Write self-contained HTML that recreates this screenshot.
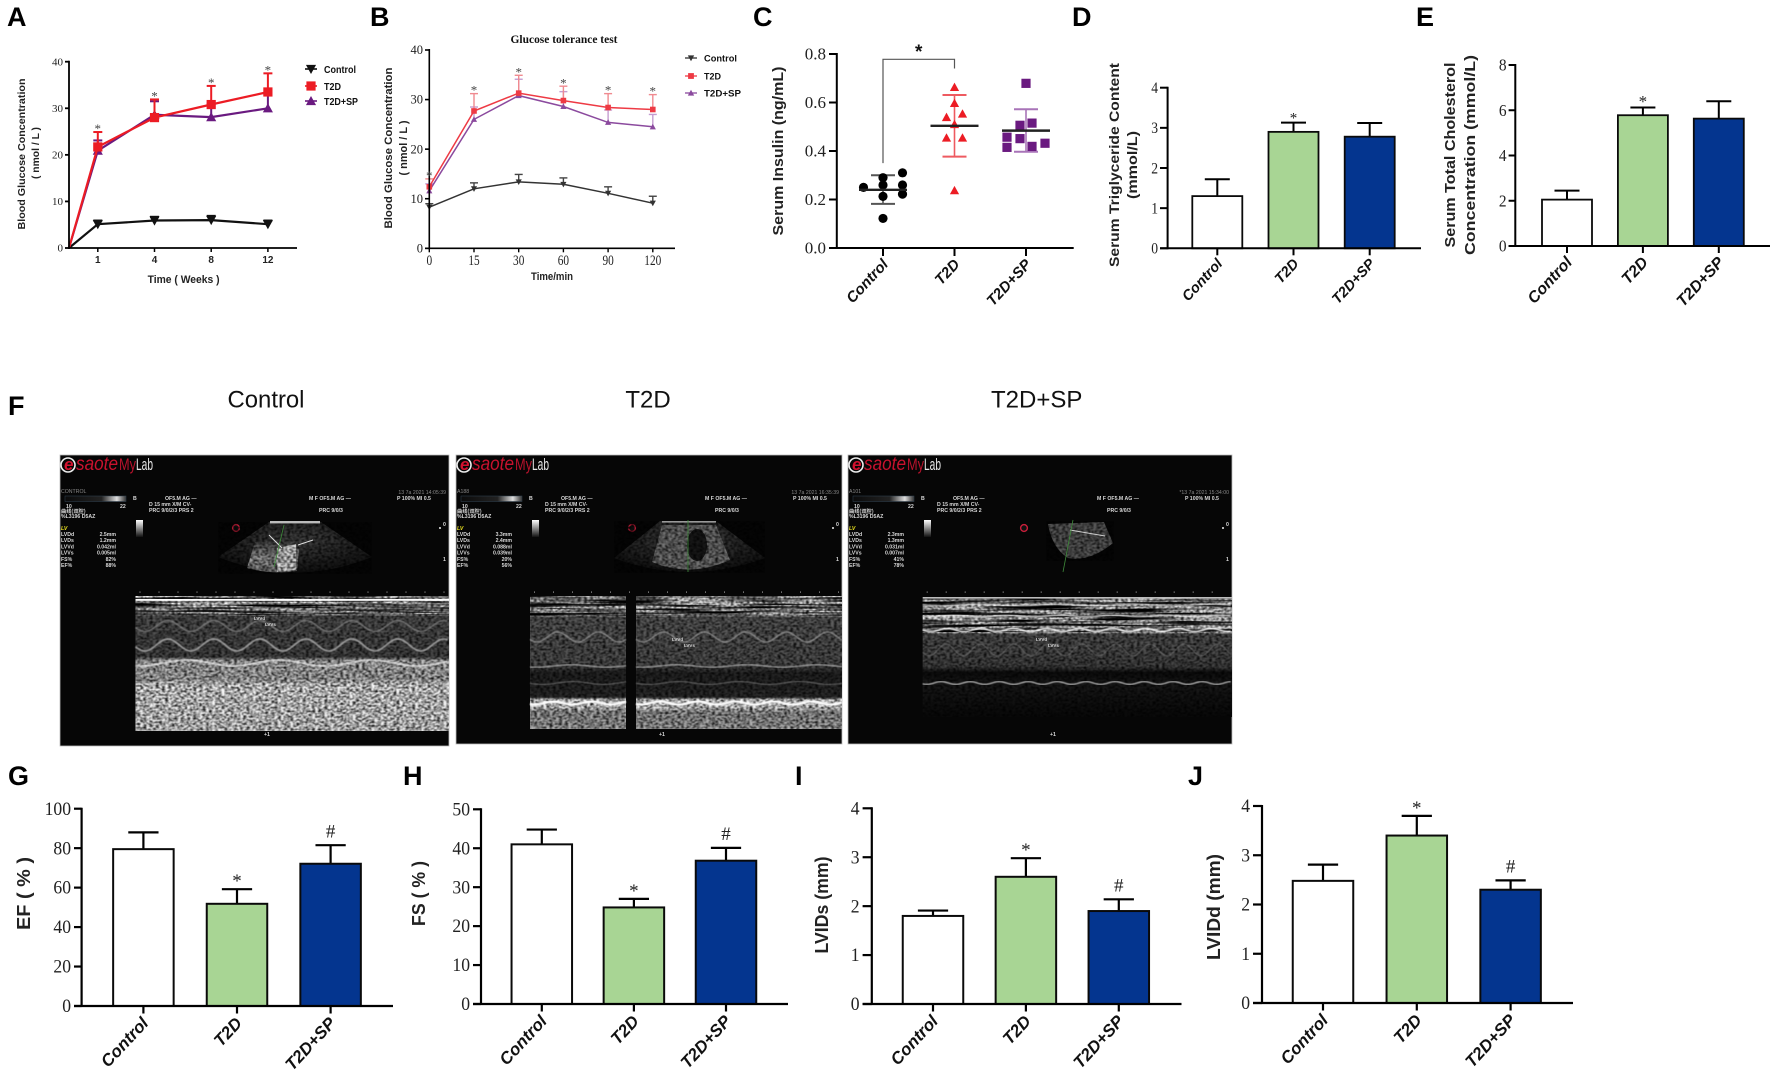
<!DOCTYPE html>
<html lang="en">
<head>
<meta charset="utf-8">
<title>Figure: glucose, insulin, lipids and echocardiography</title>
<style>
html,body{margin:0;padding:0;background:#fff;}
svg{display:block;}
text{font-family:"Liberation Sans",sans-serif;}
</style>
</head>
<body>
<svg id="figure" width="1772" height="1072" viewBox="0 0 1772 1072" xmlns="http://www.w3.org/2000/svg">
<defs>
<filter id="speckle" x="0" y="0" width="1" height="1" color-interpolation-filters="sRGB">
<feTurbulence type="fractalNoise" baseFrequency="0.32 0.55" numOctaves="2" seed="4"/>
<feColorMatrix type="matrix" values="0 0 0 0 0  0 0 0 0 0  0 0 0 0 0  2.3 0 0 0 -0.8"/>
<feGaussianBlur stdDeviation="0.45"/>
</filter>
<filter id="bands" x="0" y="0" width="1" height="1" color-interpolation-filters="sRGB">
<feTurbulence type="fractalNoise" baseFrequency="0.012 0.45" numOctaves="2" seed="9"/>
<feColorMatrix type="matrix" values="0 0 0 0 0  0 0 0 0 0  0 0 0 0 0  3.2 0 0 0 -1.2"/>
<feGaussianBlur stdDeviation="0.3"/>
</filter>
<filter id="soft" x="-5%" y="-20%" width="110%" height="140%"><feGaussianBlur stdDeviation="0.5"/></filter>
<linearGradient id="mmode-1" x1="0" y1="0" x2="0" y2="1">
<stop offset="0" stop-color="#fff"/><stop offset=".06" stop-color="#fff"/><stop offset=".13" stop-color="#d0d0d0"/><stop offset=".15" stop-color="#585858"/><stop offset=".45" stop-color="#4c4c4c"/><stop offset=".48" stop-color="#c8c8c8"/><stop offset=".62" stop-color="#c4c4c4"/><stop offset=".66" stop-color="#fff"/><stop offset="1" stop-color="#f0f0f0"/>
</linearGradient>
<linearGradient id="mmode-2" x1="0" y1="0" x2="0" y2="1">
<stop offset="0" stop-color="#f4f4f4"/><stop offset=".14" stop-color="#ddd"/><stop offset=".16" stop-color="#606060"/><stop offset=".52" stop-color="#555"/><stop offset=".58" stop-color="#262626"/><stop offset=".76" stop-color="#303030"/><stop offset=".78" stop-color="#f8f8f8"/><stop offset=".84" stop-color="#f0f0f0"/><stop offset=".87" stop-color="#aaa"/><stop offset="1" stop-color="#b4b4b4"/>
</linearGradient>
<linearGradient id="mmode-3" x1="0" y1="0" x2="0" y2="1">
<stop offset="0" stop-color="#eee"/><stop offset=".29" stop-color="#e8e8e8"/><stop offset=".31" stop-color="#585858"/><stop offset=".58" stop-color="#484848"/><stop offset=".63" stop-color="#0e0e0e"/><stop offset=".72" stop-color="#1c1c1c"/><stop offset="1" stop-color="#0a0a0a"/>
</linearGradient>
<linearGradient id="depth-bar" x1="0" y1="0" x2="0" y2="1"><stop offset="0" stop-color="#fff"/><stop offset="1" stop-color="#111"/></linearGradient>
<linearGradient id="gain-bar" x1="0" y1="0" x2="1" y2="0"><stop offset="0" stop-color="#0b0b0b"/><stop offset=".6" stop-color="#222"/><stop offset=".85" stop-color="#ddd"/><stop offset="1" stop-color="#333"/></linearGradient>
<radialGradient id="fan-fill" cx=".5" cy=".35" r=".65"><stop offset="0" stop-color="#4a4a4a"/><stop offset="1" stop-color="#121212"/></radialGradient>
<linearGradient id="bright-column" x1="0" y1="0" x2="0" y2="1"><stop offset="0" stop-color="#444"/><stop offset=".6" stop-color="#aaa"/><stop offset="1" stop-color="#777"/></linearGradient>
</defs>
</svg>
<script>
/* ---------- shared category labels ---------- */
const groupLabels = ['Control', 'T2D', 'T2D+SP'];

/* ---------- panel A: blood glucose by week ---------- */
const weekLabels = ['1', '4', '8', '12'];
const glucoseTicks = [0, 10, 20, 30, 40];
const weekControl = [5.1, 5.9, 6.0, 5.1];
const weekControlUpper = [5.9, 6.7, 6.9, 5.9];
const weekT2d = [21.7, 28.0, 30.8, 33.5];
const weekT2dUpper = [24.9, 31.9, 34.8, 37.5];
const weekSp = [20.9, 28.6, 28.1, 30.0];
const weekSpUpper = [23.1, 31.5, 31.0, 33.0];
const weekStart = 0;

/* ---------- panel B: glucose tolerance test ---------- */
const minuteLabels = ['0', '15', '30', '60', '90', '120'];
const ogttControl = [8.3, 12.0, 13.4, 12.9, 11.1, 9.1];
const ogttControlUpper = [9.0, 13.2, 14.9, 14.2, 12.4, 10.5];
const ogttT2d = [12.4, 27.7, 31.3, 29.8, 28.4, 28.0];
const ogttT2dUpper = [14.0, 31.2, 34.9, 32.7, 31.2, 31.0];
const ogttSp = [11.6, 26.0, 30.8, 28.6, 25.4, 24.5];
const ogttSpUpper = [13.0, 28.5, 34.1, 31.6, 27.9, 27.0];

/* ---------- panel C: serum insulin ---------- */
const insulinTicks = ['0.0', '0.2', '0.4', '0.6', '0.8'];
const insulinControl = [0.29, 0.26, 0.213, 0.122, 0.31, 0.26, 0.222, 0.25];
const insulinT2d = [0.663, 0.597, 0.51, 0.237, 0.553, 0.539, 0.454, 0.454];
const insulinSp = [0.506, 0.515, 0.451, 0.419, 0.457, 0.415, 0.432, 0.679];
const insulinMean = [0.24, 0.504, 0.484];
const insulinUpper = [0.30, 0.631, 0.572];
const insulinLower = [0.182, 0.377, 0.397];

/* ---------- panel D: triglyceride ---------- */
const tgTicks = [0, 1, 2, 3, 4];
const tgMean = [1.3, 2.9, 2.78];
const tgUpper = [1.72, 3.13, 3.12];
const tgMarks = ['', '*', ''];

/* ---------- panel E: cholesterol ---------- */
const tcTicks = [0, 2, 4, 6, 8];
const tcMean = [2.05, 5.78, 5.63];
const tcUpper = [2.45, 6.12, 6.4];
const tcMarks = ['', '*', ''];

/* ---------- panel G: EF ---------- */
const efTicks = [0, 20, 40, 60, 80, 100];
const efMean = [79.5, 51.8, 72.1];
const efUpper = [88, 59.2, 81.5];
const efMarks = ['', '*', '#'];

/* ---------- panel H: FS ---------- */
const fsTicks = [0, 10, 20, 30, 40, 50];
const fsMean = [41, 24.8, 36.8];
const fsUpper = [44.8, 27, 40.1];
const fsMarks = ['', '*', '#'];

/* ---------- panel I: LVIDs ---------- */
const lvidsTicks = [0, 1, 2, 3, 4];
const lvidsMean = [1.8, 2.6, 1.9];
const lvidsUpper = [1.91, 2.98, 2.14];
const lvidsMarks = ['', '*', '#'];

/* ---------- panel J: LVIDd ---------- */
const lviddTicks = [0, 1, 2, 3, 4];
const lviddMean = [2.48, 3.4, 2.3];
const lviddUpper = [2.81, 3.8, 2.49];
const lviddMarks = ['', '*', '#'];

/* ---------- drawing helpers ---------- */
const NS = 'http://www.w3.org/2000/svg';
const root = document.getElementById('figure');
const SERIF = '"Liberation Serif",serif';
const RED = '#ec1c24', PURPLE = '#6a1a80', GREEN = '#a8d594', BLUE = '#04358f';

function mk(parent, tag, attrs, name) {
  const el = document.createElementNS(NS, tag);
  for (const k in attrs) el.setAttribute(k, attrs[k]);
  
  
  parent.appendChild(el);
  return el;
}
function group(parent, name) { return mk(parent, 'g', {}, name); }
function line(p, x1, y1, x2, y2, stroke, w, name) {
  return mk(p, 'line', { x1, y1, x2, y2, stroke, 'stroke-width': w }, name);
}
function txt(p, x, y, str, o, name) {
  o = o || {};
  const a = { x, y, 'font-size': o.size || 12, fill: o.fill || '#111' };
  if (o.weight) a['font-weight'] = o.weight;
  if (o.style) a['font-style'] = o.style;
  if (o.anchor) a['text-anchor'] = o.anchor;
  if (o.family) a['style'] = 'font-family:' + o.family;
  if (o.len) { a.textLength = o.len; a.lengthAdjust = 'spacingAndGlyphs'; }
  if (o.rot !== undefined) a.transform = 'rotate(' + o.rot + ' ' + x + ' ' + y + ')';
  if (o.opacity) a.opacity = o.opacity;
  const t = mk(p, 'text', a, name);
  t.textContent = str;
  if (o.squish) {
    t.setAttribute('textLength', (t.getComputedTextLength() * o.squish).toFixed(1));
    t.setAttribute('lengthAdjust', 'spacingAndGlyphs');
  }
  return t;
}
function scale(d0, d1, r0, r1) { return v => r0 + (v - d0) * (r1 - r0) / (d1 - d0); }
function panelLetter(x, y, s, name) {
  txt(root, x, y, s, { size: 27, weight: 'bold', fill: '#000' }, name);
}
function star(p, x, cy, s, size, fill, name) {
  /* asterisk glyph sits about .47em above the baseline, # about .33em */
  const off = s === '*' ? 0.47 : 0.33;
  txt(p, x, cy + size * off, s, { size, family: SERIF, anchor: 'middle', fill }, name);
}
function yAxis(p, c, ticks, yS, labelOf) {
  line(p, c.axisX, yS(ticks[0]) + 1, c.axisX, yS(ticks[ticks.length - 1]) - 1, '#000', c.axisW, 'y-axis-line');
  ticks.forEach(t => {
    const v = +t;
    line(p, c.leftTick, yS(v), c.axisX, yS(v), '#000', c.tickW || c.axisW, 'y-tick');
    txt(p, c.leftTick - (c.tickGap || 3), yS(v) + c.tickSize * 0.33, labelOf ? labelOf(t) : String(t),
      { size: c.tickSize, family: SERIF, anchor: 'end', fill: '#222', squish: c.tickSquish }, 'y-tick-label');
  });
}
function rotatedCats(p, c, xS, y0) {
  groupLabels.forEach((g, i) => {
    line(p, xS(i), y0, xS(i), y0 + c.catTick, '#000', c.axisW, 'x-tick');
    txt(p, xS(i) + c.catDx, y0 + c.catDy, g,
      { size: c.catSize, weight: 'bold', style: 'italic', anchor: 'end', rot: -47, fill: '#111' }, 'x-tick-label');
  });
}
function yTitle(p, x, cy, s, len, size, name) {
  txt(p, x, cy, s, { size, weight: 'bold', anchor: 'middle', rot: -90, len, fill: '#222' }, name);
}

function barPanel(name, c, ticks, means, uppers, marks) {
  const g = group(root, name);
  const yS = scale(0, ticks[ticks.length - 1], c.y0, c.yTop);
  const xS = i => c.c0 + i * c.step;
  const fills = ['#fff', GREEN, BLUE];
  means.forEach((m, i) => {
    const cap = c.barW * 0.25;
    line(g, xS(i), yS(m), xS(i), yS(uppers[i]), '#000', c.errW, 'error-bar-stem');
    line(g, xS(i) - cap, yS(uppers[i]), xS(i) + cap, yS(uppers[i]), '#000', c.errW, 'error-bar-cap');
    mk(g, 'rect', { x: xS(i) - c.barW / 2, y: yS(m), width: c.barW, height: c.y0 - yS(m), fill: fills[i], stroke: '#0a0a0a', 'stroke-width': c.barStroke }, 'bar-' + groupLabels[i].toLowerCase().replace('+', '-'));
    if (marks[i]) star(g, xS(i), yS(uppers[i]) - (marks[i] === '*' ? c.starGap : c.hashGap), marks[i], c.starSize, '#222', marks[i] === '*' ? 'significance-star' : 'significance-hash');
  });
  line(g, c.leftTick, c.y0, c.xEnd, c.y0, '#000', c.axisW, 'x-axis-line');
  yAxis(g, c, ticks, yS);
  rotatedCats(g, c, xS, c.y0);
  return g;
}
function marker(p, type, x, y, r, fill, name) {
  if (type === 'square') return mk(p, 'rect', { x: x - r, y: y - r, width: 2 * r, height: 2 * r, fill }, name);
  if (type === 'circle') return mk(p, 'circle', { cx: x, cy: y, r, fill }, name);
  const d = type === 'down' ? 1 : -1;
  return mk(p, 'polygon', { points: (x - r * 1.1) + ',' + (y - d * r * 0.9) + ' ' + (x + r * 1.1) + ',' + (y - d * r * 0.9) + ' ' + x + ',' + (y + d * r * 1.1), fill }, name);
}
function lineSeries(p, name, xS, yS, vals, uppers, color, errColor, type, c, start) {
  const g = group(p, name);
  vals.forEach((v, i) => {
    line(g, xS(i), yS(v), xS(i), yS(uppers[i]), errColor, c.errW, 'error-bar-stem');
    line(g, xS(i) - c.cap, yS(uppers[i]), xS(i) + c.cap, yS(uppers[i]), errColor, c.errW, 'error-bar-cap');
  });
  let pts = vals.map((v, i) => xS(i).toFixed(1) + ',' + yS(v).toFixed(1));
  if (start) pts = [start].concat(pts);
  mk(g, 'polyline', { points: pts.join(' '), fill: 'none', stroke: color, 'stroke-width': c.lineW }, 'series-line');
  vals.forEach((v, i) => marker(g, type, xS(i), yS(v), c.r, color, 'series-marker'));
}

/* ---------- A ---------- */
panelLetter(7, 26, 'A', 'panel-label-a');
(function () {
  const g = group(root, 'panel-a-weekly-glucose');
  const c = { axisX: 69, leftTick: 65, axisW: 1.8, tickSize: 11, tickGap: 2, errW: 2, cap: 4.5, lineW: 2.2, r: 4.6 };
  const y0 = 248;
  const yS = scale(0, 40, y0, 61.7);
  const xS = i => 97.8 + i * 56.7;
  const start = c.axisX + ',' + yS(weekStart);
  lineSeries(g, 'series-control', xS, yS, weekControl, weekControlUpper, '#111', '#111', 'down', c, start);
  lineSeries(g, 'series-t2d-sp', xS, yS, weekSp, weekSpUpper, PURPLE, PURPLE, 'up', c, start);
  lineSeries(g, 'series-t2d', xS, yS, weekT2d, weekT2dUpper, RED, RED, 'square', c, start);
  line(g, 69, y0, 297, y0, '#000', 1.8, 'x-axis-line');
  yAxis(g, c, glucoseTicks, yS);
  weekLabels.forEach((w, i) => {
    line(g, xS(i), y0, xS(i), y0 + 4, '#000', 1.5, 'x-tick');
    txt(g, xS(i), 263, w, { size: 10, weight: 'bold', anchor: 'middle', fill: '#222' }, 'x-tick-label');
    star(g, xS(i), yS(Math.max(weekT2dUpper[i], weekSpUpper[i])) - 5, '*', 13, '#444', 'significance-star');
  });
  yTitle(g, 25, 154, 'Blood Glucose Concentration', 151, 10.5, 'y-axis-title');
  yTitle(g, 39, 153, '( nmol / L )', 52, 10.5, 'y-axis-title-unit');
  txt(g, 183.6, 283, 'Time ( Weeks )', { size: 11, weight: 'bold', anchor: 'middle', len: 72, fill: '#222' }, 'x-axis-title');
  const lg = group(g, 'legend');
  marker(lg, 'down', 311, 69, 4.6, '#111', 'legend-marker-control');
  line(lg, 305, 69, 317, 69, '#111', 1.6, 'legend-line-control');
  txt(lg, 324, 73, groupLabels[0], { size: 10, weight: 'bold', len: 32 }, 'legend-entry-control');
  marker(lg, 'square', 311, 86, 4.6, RED, 'legend-marker-t2d');
  line(lg, 305, 86, 317, 86, RED, 1.6, 'legend-line-t2d');
  txt(lg, 324, 90, groupLabels[1], { size: 10, weight: 'bold', len: 17 }, 'legend-entry-t2d');
  marker(lg, 'up', 311, 101, 4.6, PURPLE, 'legend-marker-t2d-sp');
  line(lg, 305, 101, 317, 101, PURPLE, 1.6, 'legend-line-t2d-sp');
  txt(lg, 324, 105, groupLabels[2], { size: 10, weight: 'bold', len: 34 }, 'legend-entry-t2d-sp');
})();

/* ---------- B ---------- */
panelLetter(370, 26, 'B', 'panel-label-b');
(function () {
  const g = group(root, 'panel-b-glucose-tolerance');
  const c = { axisX: 429.3, leftTick: 425, axisW: 1.6, tickSize: 12.5, tickGap: 2, errW: 1.4, cap: 4, lineW: 1.5, r: 2.8 };
  const y0 = 248.3;
  const yS = scale(0, 40, y0, 50);
  const xS = i => 429.3 + i * 44.7;
  lineSeries(g, 'series-control', xS, yS, ogttControl, ogttControlUpper, '#333', '#444', 'down', c);
  lineSeries(g, 'series-t2d-sp', xS, yS, ogttSp, ogttSpUpper, '#8b4a9e', '#c49cd0', 'up', c);
  lineSeries(g, 'series-t2d', xS, yS, ogttT2d, ogttT2dUpper, '#ee3a44', '#f08a90', 'square', c);
  line(g, 425, y0, 675, y0, '#000', 1.6, 'x-axis-line');
  yAxis(g, c, glucoseTicks, yS);
  minuteLabels.forEach((m, i) => {
    line(g, xS(i), y0, xS(i), y0 + 4, '#000', 1.4, 'x-tick');
    txt(g, xS(i), 265, m, { size: 14.5, family: SERIF, anchor: 'middle', fill: '#222', squish: 0.78 }, 'x-tick-label');
    star(g, xS(i), yS(Math.max(ogttT2dUpper[i], ogttSpUpper[i])) - 5, '*', 13, '#444', 'significance-star');
  });
  yTitle(g, 392, 148, 'Blood Glucose Concentration', 161, 11, 'y-axis-title');
  yTitle(g, 407, 148, '( nmol / L )', 55, 11, 'y-axis-title-unit');
  txt(g, 552, 280, 'Time/min', { size: 11, weight: 'bold', anchor: 'middle', len: 42, fill: '#222' }, 'x-axis-title');
  txt(g, 564, 43, 'Glucose tolerance test', { size: 12, weight: 'bold', family: SERIF, anchor: 'middle', len: 107, fill: '#111' }, 'chart-title');
  const lg = group(g, 'legend');
  const ys = [58, 76, 93];
  const cols = ['#333', '#ee3a44', '#8b4a9e'];
  const types = ['down', 'square', 'up'];
  const lens = [33, 17, 37];
  groupLabels.forEach((s, i) => {
    line(lg, 685, ys[i], 697, ys[i], cols[i], 1.3, 'legend-line');
    marker(lg, types[i], 691, ys[i], 2.9, cols[i], 'legend-marker');
    txt(lg, 704, ys[i] + 3.5, s, { size: 9.5, weight: 'bold', len: lens[i] }, 'legend-entry');
  });
})();

/* ---------- C ---------- */
panelLetter(753, 26, 'C', 'panel-label-c');
(function () {
  const g = group(root, 'panel-c-serum-insulin');
  const c = { axisX: 836.8, leftTick: 829, axisW: 2, tickSize: 17, tickGap: 3, catTick: 8, catDx: 6, catDy: 17, catSize: 15 };
  const y0 = 248;
  const yS = scale(0, 0.8, y0, 54);
  const xS = i => 883 + i * 71.5;
  const cols = ['#000', RED, PURPLE];
  const errCols = ['#555', '#ee5a60', '#a874b8'];
  const types = ['circle', 'up', 'square'];
  const sets = [insulinControl, insulinT2d, insulinSp];
  /* swarm layout: isolated values stay on the centre line, crowded values step out */
  const prefs = [[0, 19.5, -19.5], [0, 8, -8], [-6, 6, -19, 19]];
  const gaps = [0.025, 0.06, 0.04];
  const radii = [4.6, 4.2, 4.6];
  sets.forEach((vals, i) => {
    const sg = group(g, 'points-' + groupLabels[i].toLowerCase().replace('+', '-'));
    line(sg, xS(i), yS(insulinLower[i]), xS(i), yS(insulinUpper[i]), errCols[i], 1.6, 'error-bar-stem');
    line(sg, xS(i) - 12, yS(insulinUpper[i]), xS(i) + 12, yS(insulinUpper[i]), errCols[i], 2, 'error-bar-cap');
    line(sg, xS(i) - 12, yS(insulinLower[i]), xS(i) + 12, yS(insulinLower[i]), errCols[i], 2, 'error-bar-cap');
    const placed = [];
    vals.forEach((v, k) => {
      const lonely = !vals.some((w, j) => j !== k && Math.abs(w - v) < 0.065);
      let off = 0;
      if (!lonely) {
        off = prefs[i][prefs[i].length - 1];
        for (const s of prefs[i]) {
          if (!placed.some(q => q.off === s && Math.abs(q.v - v) < gaps[i])) { off = s; break; }
        }
        placed.push({ v, off });
      }
      marker(sg, types[i], xS(i) + off, yS(v), radii[i], cols[i], 'data-point');
    });
    line(sg, xS(i) - 24, yS(insulinMean[i]), xS(i) + 24, yS(insulinMean[i]), '#222', 2.4, 'mean-line');
  });
  mk(g, 'polyline', { points: xS(0) + ',' + yS(0.35) + ' ' + xS(0) + ',' + yS(0.778) + ' ' + xS(1) + ',' + yS(0.778) + ' ' + xS(1) + ',' + yS(0.74), fill: 'none', stroke: '#555', 'stroke-width': 1.2 }, 'significance-bracket');
  txt(g, (xS(0) + xS(1)) / 2, 58, '*', { size: 19, weight: 'bold', anchor: 'middle', fill: '#111' }, 'significance-star');
  line(g, c.leftTick, y0, 1073.7, y0, '#000', 2, 'x-axis-line');
  yAxis(g, c, insulinTicks, yS);
  rotatedCats(g, c, xS, y0);
  yTitle(g, 783, 151, 'Serum Insulin (ng/mL)', 169, 14.5, 'y-axis-title');
})();

/* ---------- D, E ---------- */
panelLetter(1072, 26, 'D', 'panel-label-d');
const panelD = barPanel('panel-d-triglyceride', { axisX: 1167.6, leftTick: 1160, xEnd: 1421, y0: 248.3, yTop: 87.7, c0: 1217.3, step: 76.2, barW: 50, barStroke: 1.8, errW: 2, axisW: 2, tickSize: 16, tickGap: 2, tickSquish: 0.85, catTick: 7, catDx: 6, catDy: 16, catSize: 14.5, starGap: 7, hashGap: 9, starSize: 15 }, tgTicks, tgMean, tgUpper, tgMarks);
yTitle(panelD, 1119, 165, 'Serum Triglyceride Content', 204, 14, 'y-axis-title');
yTitle(panelD, 1137, 165, '(mmol/L)', 68, 14, 'y-axis-title-unit');

panelLetter(1416, 26, 'E', 'panel-label-e');
const panelE = barPanel('panel-e-cholesterol', { axisX: 1515.3, leftTick: 1508.6, xEnd: 1770, y0: 246, yTop: 65, c0: 1567, step: 75.9, barW: 50, barStroke: 1.8, errW: 2, axisW: 2, tickSize: 17, tickGap: 2, tickSquish: 0.9, catTick: 7, catDx: 6, catDy: 17, catSize: 16, starGap: 8.7, hashGap: 10, starSize: 17 }, tcTicks, tcMean, tcUpper, tcMarks);
yTitle(panelE, 1455, 155, 'Serum Total Cholesterol', 185, 15, 'y-axis-title');
yTitle(panelE, 1475, 155, 'Concentration (mmol/L)', 200, 15, 'y-axis-title-unit');

/* ---------- F: ultrasound images ---------- */
panelLetter(8, 415, 'F', 'panel-label-f');
txt(root, 266, 407.5, 'Control', { size: 24, anchor: 'middle', fill: '#111', len: 77 }, 'column-title-control');
txt(root, 648, 407.5, 'T2D', { size: 24, anchor: 'middle', fill: '#111' }, 'column-title-t2d');
txt(root, 1036.7, 407.5, 'T2D+SP', { size: 24, anchor: 'middle', fill: '#111' }, 'column-title-t2d-sp');

function usText(p, x, y, s, o) {
  txt(p, x, y, s, Object.assign({ size: 5.2, weight: 'bold', fill: '#d8d8d8' }, o || {}), 'ultrasound-readout');
}
function ultrasound(name, box, readout, tag, stamp) {
  const g = group(root, name);
  const dx = box.x0 - 60;
  mk(g, 'rect', { x: box.x0, y: 455, width: box.x1 - box.x0, height: box.y1 - 455, fill: '#060606', stroke: '#bbb', 'stroke-width': 0.8 }, 'ultrasound-background');
  /* logo */
  mk(g, 'circle', { cx: 68 + dx, cy: 465, r: 7, fill: 'none', stroke: '#eee', 'stroke-width': 1.6 }, 'logo-ring');
  txt(g, 64 + dx, 470, 'e', { size: 17, weight: 'bold', style: 'italic', fill: '#d3122f' }, 'logo-e');
  txt(g, 76 + dx, 470, 'saote', { size: 19, style: 'italic', fill: '#c8122e', len: 42 }, 'logo-esaote');
  txt(g, 119 + dx, 470, 'My', { size: 17, fill: '#b8122c', len: 17 }, 'logo-my');
  txt(g, 136 + dx, 470, 'Lab', { size: 17, fill: '#e8e8e8', len: 17 }, 'logo-lab');
  /* readouts */
  usText(g, 61 + dx, 493, tag, { fill: '#888', weight: 'normal' });
  mk(g, 'rect', { x: 65 + dx, y: 496, width: 61, height: 5.5, fill: 'url(#gain-bar)', stroke: '#345', 'stroke-width': 0.5 }, 'gain-bar');
  usText(g, 66 + dx, 508, '10');
  usText(g, 120 + dx, 508, '22');
  usText(g, 61 + dx, 513, '曲线(双腔)', { family: '"Noto Sans CJK SC",sans-serif' });
  usText(g, 61 + dx, 518, '%L3196  D5AZ');
  usText(g, 133 + dx, 500, 'B');
  usText(g, 165 + dx, 500, 'OF5.M    AG   —');
  usText(g, 149 + dx, 506, 'D     15 mm    X/M   CV-');
  usText(g, 149 + dx, 512, 'PRC  9/0/2/3   PRS   2');
  usText(g, 309 + dx, 500, 'M  F     OF5.M    AG   —');
  usText(g, 397 + dx, 500, 'P  100%   MI   0.5');
  usText(g, 319 + dx, 512, 'PRC  9/0/3');
  usText(g, box.x1 - 3, 494, stamp, { anchor: 'end', fill: '#888', weight: 'normal' });
  usText(g, 61 + dx, 530, 'LV', { fill: '#e8e020', style: 'italic' });
  ['LVDd', 'LVDs', 'LVVd', 'LVVs', 'FS%', 'EF%'].forEach((k, i) => {
    const y = 536 + i * 6.2;
    usText(g, 61 + dx, y, k);
    usText(g, 116 + dx, y, readout[i], { anchor: 'end' });
  });
  mk(g, 'rect', { x: 136 + dx, y: 520, width: 7, height: 17, fill: 'url(#depth-bar)' }, 'depth-scale');
  mk(g, 'circle', { cx: 236 + dx, cy: 528, r: 3.4, fill: '#111', stroke: '#c81e3a', 'stroke-width': 1.4 }, 'orientation-marker');
  usText(g, box.x1 - 6, 526, '0');
  usText(g, box.x1 - 6, 561, '1');
  mk(g, 'circle', { cx: box.x1 - 9, cy: 528, r: 1, fill: '#eee' }, 'depth-dot');
  usText(g, box.plus, 736, '+1');
  /* ruler ticks */
  for (let x = box.m0 + 4; x < box.x1 - 2; x += 19) {
    mk(g, 'rect', { x, y: 591.5, width: 1, height: 1.2, fill: '#999' }, 'ruler-tick');
  }
  return g;
}
function speckle(g, x, y, w, h, fid, name) {
  mk(g, 'rect', { x, y, width: w, height: h, fill: '#000', filter: 'url(#' + fid + ')' }, name);
}
function wave(g, x0, x1, yc, amp, period, phase, stroke, w, op, name) {
  const pts = [];
  for (let x = x0; x <= x1; x += 2) {
    const s = Math.sin((x - x0) * 2 * Math.PI / period + phase);
    pts.push(x + ',' + (yc + amp * s).toFixed(1));
  }
  mk(g, 'polyline', { points: pts.join(' '), fill: 'none', stroke, 'stroke-width': w, opacity: op, filter: 'url(#soft)' }, name);
}
function mrect(g, x, w, y, h, grad) {
  mk(g, 'rect', { x, y, width: w, height: h, fill: 'url(#' + grad + ')' }, 'm-mode-trace');
  speckle(g, x, y, w, h, 'speckle', 'm-mode-speckle');
}

/* control image */
(function () {
  const g = ultrasound('ultrasound-control', { x0: 60, x1: 449, y1: 746, m0: 135.5, plus: 264 }, ['2.5mm', '1.2mm', '0.042ml', '0.005ml', '82%', '88%'], 'CONTROL', '13  7a  2021 14:05:39');
  mk(g, 'path', { d: 'M269 522H321L372 557Q295 588 218 557Z', fill: 'url(#fan-fill)' }, 'sector-scan');
  mk(g, 'path', { d: 'M255 542L300 540L297 571Q272 575 247 568Z', fill: 'url(#bright-column)' }, 'sector-bright-region');
  mk(g, 'path', { d: 'M277 548L296 544L296 570L277 572Z', fill: '#e4e4e4' }, 'sector-bright-core');
  speckle(g, 218, 522, 154, 52, 'speckle', 'sector-speckle');
  mk(g, 'rect', { x: 270, y: 521, width: 50, height: 2.4, fill: '#bbb' }, 'sector-near-field');
  line(g, 269, 535, 282, 548, '#ddd', 1, 'sector-wall');
  line(g, 298, 545, 313, 540, '#ddd', 1, 'sector-wall');
  line(g, 284, 525, 274, 567, '#3e8a3a', 0.8, 'm-line-cursor');
  mrect(g, 135.5, 313.5, 596, 135, 'mmode-1');
  speckle(g, 135.5, 596, 313.5, 19, 'bands', 'wall-bands');
  mk(g, 'rect', { x: 135.5, y: 599, width: 313.5, height: 1.8, fill: '#fff' }, 'bright-line');
  wave(g, 135.5, 449, 626, 5.5, 46, 0.3, '#8a8a8a', 1.5, 0.7, 'wall-motion-upper');
  wave(g, 135.5, 449, 645, 6, 46, 0.3, '#b0b0b0', 1.8, 0.8, 'wall-motion-lower');
  wave(g, 135.5, 449, 663, 3, 92, 1.2, '#f0f0f0', 1.8, 0.75, 'posterior-wall-edge');
  usText(g, 254, 620, 'LVVd', { size: 4.5 });
  usText(g, 265, 626, 'LVVs', { size: 4.5 });
})();

/* T2D image */
(function () {
  const g = ultrasound('ultrasound-t2d', { x0: 456, x1: 842, y1: 744, m0: 530, plus: 659 }, ['3.3mm', '2.4mm', '0.088ml', '0.039ml', '20%', '56%'], 'A188', '13  7a  2021 16:35:39');
  mk(g, 'path', { d: 'M660 521H716L765 558Q688 586 614 558Z', fill: 'url(#fan-fill)' }, 'sector-scan');
  mk(g, 'path', { d: 'M662 525H716L730 560Q690 578 652 562Z', fill: '#777' }, 'sector-heart');
  mk(g, 'ellipse', { cx: 697, cy: 545, rx: 10, ry: 16, fill: '#1a1a1a' }, 'sector-chamber');
  speckle(g, 614, 521, 151, 52, 'speckle', 'sector-speckle');
  mk(g, 'rect', { x: 662, y: 521, width: 54, height: 1.6, fill: '#999' }, 'sector-near-field');
  line(g, 688, 520, 688, 572, '#3e8a3a', 0.8, 'm-line-cursor');
  [[530, 96], [636, 206]].forEach(s => {
    mrect(g, s[0], s[1], 596, 133, 'mmode-2');
    speckle(g, s[0], 596, s[1], 20, 'bands', 'wall-bands');
    wave(g, s[0], s[0] + s[1], 637, 5, 41, 0.5, '#a4a4a4', 1.4, 0.7, 'wall-motion');
    wave(g, s[0], s[0] + s[1], 666, 1.2, 70, 1, '#d0d0d0', 1.2, 0.7, 'posterior-edge');
    wave(g, s[0], s[0] + s[1], 683, 1.5, 60, 0.2, '#999', 1, 0.6, 'pericardium-line');
    wave(g, s[0], s[0] + s[1], 703, 1.6, 38, 0.8, '#fff', 2.6, 0.95, 'bright-band');
  });
  usText(g, 672, 641, 'LVVd', { size: 4.5 });
  usText(g, 684, 647, 'LVVs', { size: 4.5 });
})();

/* T2D+SP image */
(function () {
  const g = ultrasound('ultrasound-t2d-sp', { x0: 848, x1: 1232, y1: 744, m0: 922.7, plus: 1050 }, ['2.3mm', '1.3mm', '0.031ml', '0.007ml', '41%', '78%'], 'A101', '*13  7a  2021 15:34:00');
  mk(g, 'path', { d: 'M1048 524L1104 522L1113 543Q1090 562 1068 558Q1052 548 1048 524Z', fill: '#5c5c5c' }, 'sector-scan');
  speckle(g, 1046, 521, 68, 40, 'speckle', 'sector-speckle');
  line(g, 1070, 530, 1105, 536, '#ccc', 1, 'sector-wall');
  line(g, 1073, 520, 1063, 572, '#3e8a3a', 0.8, 'm-line-cursor');
  mrect(g, 922.7, 309.3, 597, 120, 'mmode-3');
  speckle(g, 922.7, 597, 309.3, 35, 'bands', 'wall-bands');
  mk(g, 'rect', { x: 922.7, y: 597, width: 309.3, height: 1.6, fill: '#bbb' }, 'top-line');
  wave(g, 922.7, 1232, 605, 0.8, 77, 0, '#f0f0f0', 1.2, 0.8, 'bright-line');
  wave(g, 922.7, 1232, 616, 0.8, 53, 1, '#fff', 1.3, 0.85, 'bright-line');
  wave(g, 922.7, 1232, 630, 1.6, 33, 0, '#fff', 1.6, 0.9, 'bright-line');
  wave(g, 922.7, 1232, 650, 6, 34, 0.4, '#8c8c8c', 1, 0.5, 'wall-motion');
  wave(g, 922.7, 1232, 683, 1.4, 29, 0.7, '#e0e0e0', 1.2, 0.85, 'posterior-edge');
  usText(g, 1036, 641, 'LVVd', { size: 4.5 });
  usText(g, 1048, 647, 'LVVs', { size: 4.5 });
})();

/* ---------- G, H, I, J ---------- */
const lowerBase = { barW: 60.5, barStroke: 2, errW: 2.2, axisW: 2.2, tickSize: 18.5, tickGap: 3, tickSquish: 0.95, catTick: 7.5, catDx: 6, catDy: 18, catSize: 17, starGap: 11, hashGap: 14, starSize: 19 };

panelLetter(8, 785, 'G', 'panel-label-g');
const panelG = barPanel('panel-g-ef', Object.assign({}, lowerBase, { axisX: 81.6, leftTick: 74, xEnd: 393, y0: 1006, yTop: 808.7, c0: 143.4, step: 93.6 }), efTicks, efMean, efUpper, efMarks);
yTitle(panelG, 30, 893.5, 'EF ( % )', 73, 18, 'y-axis-title');

panelLetter(403, 785, 'H', 'panel-label-h');
const panelH = barPanel('panel-h-fs', Object.assign({}, lowerBase, { axisX: 481, leftTick: 473, xEnd: 788, y0: 1004, yTop: 809.3, c0: 541.8, step: 92.1 }), fsTicks, fsMean, fsUpper, fsMarks);
yTitle(panelH, 425, 893.5, 'FS ( % )', 65, 18, 'y-axis-title');

panelLetter(795, 785, 'I', 'panel-label-i');
const panelI = barPanel('panel-i-lvids', Object.assign({}, lowerBase, { axisX: 871.8, leftTick: 862.6, xEnd: 1181.5, y0: 1004, yTop: 808.3, c0: 933, step: 92.9 }), lvidsTicks, lvidsMean, lvidsUpper, lvidsMarks);
yTitle(panelI, 828, 905, 'LVIDs (mm)', 97, 18, 'y-axis-title');

panelLetter(1188, 785, 'J', 'panel-label-j');
const panelJ = barPanel('panel-j-lvidd', Object.assign({}, lowerBase, { axisX: 1262, leftTick: 1253, xEnd: 1573, y0: 1003, yTop: 806, c0: 1323, step: 93.8 }), lviddTicks, lviddMean, lviddUpper, lviddMarks);
yTitle(panelJ, 1220, 907, 'LVIDd (mm)', 106, 18, 'y-axis-title');
</script>
</body>
</html>
